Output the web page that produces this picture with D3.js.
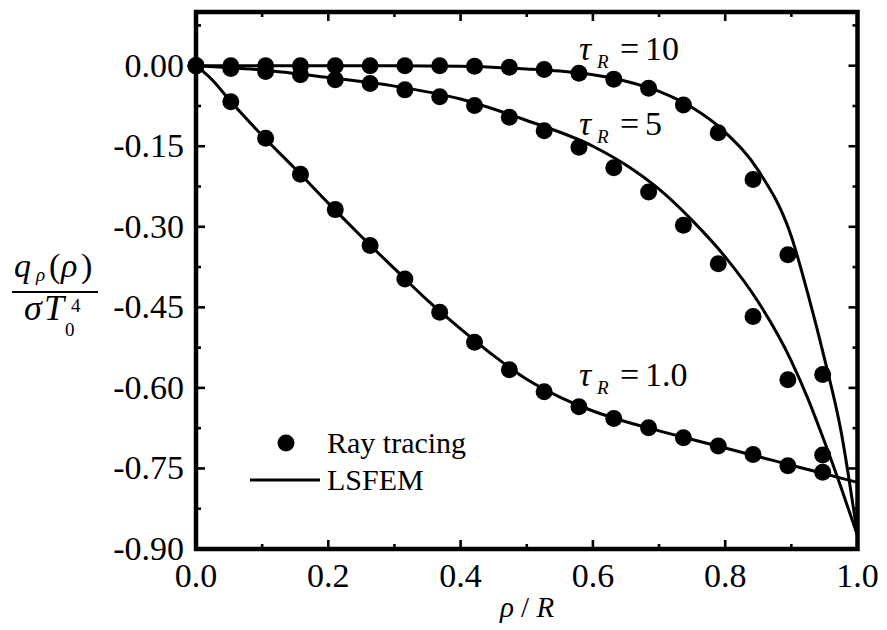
<!DOCTYPE html>
<html>
<head>
<meta charset="utf-8">
<script src="https://cdn.jsdelivr.net/npm/d3@7"></script>
<style>
  body { margin: 0; background: #fff; }
  svg { display: block; }
  text { font-family: "Liberation Serif", "Times New Roman", serif; fill: #000; }
</style>
</head>
<body>
<div id="chart"></div>
<script>
var width = 887, height = 630;

// ray tracing points, x = i/19
var rayX = d3.range(19).map(function (i) { return i / 19; });
var rayTau1 = [0, -0.067, -0.135, -0.202, -0.268, -0.335, -0.397, -0.459, -0.515, -0.566,
               -0.607, -0.635, -0.657, -0.674, -0.693, -0.708, -0.724, -0.745, -0.757];
var rayTau5 = [0, -0.005, -0.011, -0.017, -0.026, -0.033, -0.045, -0.058, -0.074, -0.096,
               -0.121, -0.152, -0.190, -0.235, -0.297, -0.369, -0.467, -0.585, -0.725];
var rayTau10 = [0, 0, 0, 0, 0, 0, 0, 0, -0.001, -0.003,
                -0.007, -0.014, -0.025, -0.042, -0.073, -0.125, -0.212, -0.352, -0.575];

// LSFEM curves
var femX1 = [0, 0.025, 0.05, 0.1, 0.15, 0.2, 0.25, 0.3, 0.35, 0.4, 0.45, 0.5, 0.55, 0.6,
             0.65, 0.7, 0.75, 0.8, 0.85, 0.9, 0.95, 1.0];
var femTau1 = [0, -0.027, -0.063, -0.130, -0.192, -0.256, -0.318, -0.378, -0.437, -0.490,
               -0.540, -0.584, -0.617, -0.643, -0.663, -0.680, -0.696, -0.712, -0.728,
               -0.744, -0.760, -0.776];
var femX5 = [0, 0.1, 0.2, 0.3, 0.4, 0.5, 0.6, 0.65, 0.7, 0.75, 0.8, 0.85, 0.9, 0.925, 0.95,
             0.975, 1.0];
var femTau5 = [0, -0.008, -0.022, -0.038, -0.062, -0.102, -0.150, -0.185, -0.230, -0.288,
               -0.356, -0.440, -0.550, -0.620, -0.700, -0.785, -0.875];
var femX10 = [0, 0.1, 0.2, 0.3, 0.4, 0.5, 0.55, 0.6, 0.65, 0.7, 0.75, 0.8, 0.85, 0.9, 0.925,
              0.95, 0.975, 1.0];
var femTau10 = [0, 0, 0, 0, -0.001, -0.006, -0.010, -0.017, -0.029, -0.048, -0.078, -0.124,
                -0.195, -0.318, -0.425, -0.545, -0.680, -0.875];

var xTicks = [0, 0.2, 0.4, 0.6, 0.8, 1.0];
var xTickLabels = ["0.0", "0.2", "0.4", "0.6", "0.8", "1.0"];
var yTicks = [0, -0.15, -0.30, -0.45, -0.60, -0.75, -0.90];
var yTickLabels = ["0.00", "-0.15", "-0.30", "-0.45", "-0.60", "-0.75", "-0.90"];

var plotL = 196, plotR = 857.5, plotT = 12, plotB = 549;

var svg = d3.select("#chart").append("svg")
    .attr("width", width).attr("height", height);

var x = d3.scaleLinear().domain([0, 1]).range([plotL, plotR]);
var y = d3.scaleLinear().domain([-0.9, 0.1]).range([plotB, plotT]);

var xMinor = d3.range(0, 11).map(function (i) { return i / 10; });
var yMinor = d3.range(0, 13).map(function (i) { return 0.075 - i * 0.075; });

// ticks, all pointing inward
function tickLen(major) { return major ? 9 : 5; }
var g = svg.append("g").attr("stroke", "#000").attr("stroke-width", 2.6);
xMinor.forEach(function (v, i) {
    var major = i % 2 === 0;
    g.append("line").attr("x1", x(v)).attr("x2", x(v))
        .attr("y1", plotB).attr("y2", plotB - tickLen(major));
    g.append("line").attr("x1", x(v)).attr("x2", x(v))
        .attr("y1", plotT).attr("y2", plotT + tickLen(major));
});
yMinor.forEach(function (v, i) {
    var major = i % 2 === 1;
    g.append("line").attr("x1", plotL).attr("x2", plotL + tickLen(major))
        .attr("y1", y(v)).attr("y2", y(v));
    g.append("line").attr("x1", plotR).attr("x2", plotR - tickLen(major))
        .attr("y1", y(v)).attr("y2", y(v));
});

// frame
svg.append("rect")
    .attr("x", plotL).attr("y", plotT)
    .attr("width", plotR - plotL).attr("height", plotB - plotT)
    .attr("fill", "none").attr("stroke", "#000").attr("stroke-width", 4.5);

// tick labels
svg.selectAll(".xl").data(xTicks).enter().append("text")
    .attr("x", function (d) { return x(d); })
    .attr("y", 587)
    .attr("text-anchor", "middle")
    .style("font-size", "34px")
    .text(function (d, i) { return xTickLabels[i]; });

svg.selectAll(".yl").data(yTicks).enter().append("text")
    .attr("x", plotL - 12)
    .attr("y", function (d) { return y(d) + 11; })
    .attr("text-anchor", "end")
    .style("font-size", "34px")
    .text(function (d, i) { return yTickLabels[i]; });

// LSFEM lines
var line = d3.line()
    .x(function (d) { return x(d[0]); })
    .y(function (d) { return y(d[1]); })
    .curve(d3.curveMonotoneX);

[[femX1, femTau1], [femX5, femTau5], [femX10, femTau10]].forEach(function (s) {
    svg.append("path")
        .datum(d3.zip(s[0], s[1]))
        .attr("d", line)
        .attr("fill", "none")
        .attr("stroke", "#000")
        .attr("stroke-width", 3);
});

// ray tracing dots
[rayTau1, rayTau5, rayTau10].forEach(function (vals) {
    svg.append("g").selectAll("circle")
        .data(d3.zip(rayX, vals)).enter().append("circle")
        .attr("cx", function (d) { return x(d[0]); })
        .attr("cy", function (d) { return y(d[1]); })
        .attr("r", 8.5)
        .attr("fill", "#000");
});

// curve labels
function tauLabel(base, value) {
    svg.append("text").attr("x", 579).attr("y", base)
        .style("font-size", "34px").style("font-style", "italic").text("\u03c4");
    svg.append("text").attr("x", 597).attr("y", base + 8)
        .style("font-size", "19px").style("font-style", "italic").text("R");
    svg.append("text").attr("x", 620).attr("y", base)
        .style("font-size", "34px").text("=");
    svg.append("text").attr("x", 645).attr("y", base)
        .style("font-size", "34px").text(value);
}
tauLabel(60, "10");
tauLabel(135, "5");
tauLabel(386, "1.0");

// legend
svg.append("circle").attr("cx", 286).attr("cy", 443).attr("r", 8.5).attr("fill", "#000");
svg.append("text").attr("x", 327).attr("y", 453).style("font-size", "30px").text("Ray tracing");
svg.append("line").attr("x1", 250).attr("x2", 320).attr("y1", 480).attr("y2", 480)
    .attr("stroke", "#000").attr("stroke-width", 3);
svg.append("text").attr("x", 327).attr("y", 490).style("font-size", "30px").text("LSFEM");

// x title
var xt = svg.append("text").attr("x", 527).attr("y", 617)
    .attr("text-anchor", "middle").style("font-size", "29px").style("font-style", "italic");
xt.append("tspan").text("\u03c1");
xt.append("tspan").style("font-style", "normal").text(" / ");
xt.append("tspan").text("R");

// y title as a fraction, glyphs placed one by one
function glyph(tx, ty, size, italic, s) {
    svg.append("text").attr("x", tx).attr("y", ty)
        .style("font-size", size + "px")
        .style("font-style", italic ? "italic" : "normal")
        .text(s);
}
glyph(14, 277, 34, true, "q");
glyph(36, 281, 19, true, "\u03c1");
glyph(49, 277, 34, false, "(");
glyph(61, 277, 34, true, "\u03c1");
glyph(81, 277, 34, false, ")");
svg.append("line").attr("x1", 12).attr("x2", 98).attr("y1", 292).attr("y2", 292)
    .attr("stroke", "#000").attr("stroke-width", 2);
glyph(24, 320, 36, true, "\u03c3");
glyph(44, 320, 36, true, "T");
glyph(65, 336, 19, false, "0");
glyph(71, 312, 19, false, "4");
</script>
</body>
</html>
